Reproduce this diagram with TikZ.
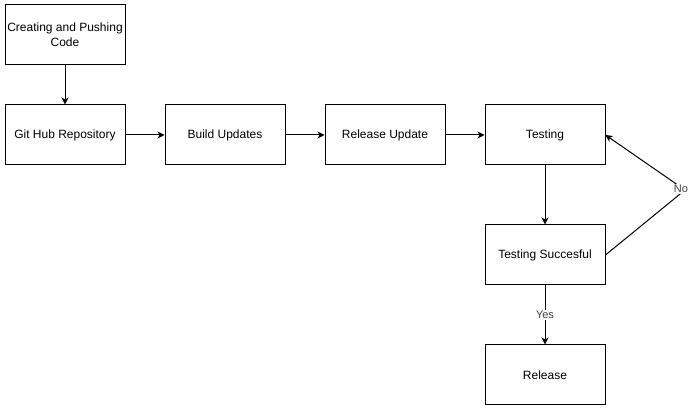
\documentclass[tikz,border=0pt]{standalone}
\usepackage{fontspec}
\setmainfont{Liberation Sans}
\usetikzlibrary{arrows.meta}

\begin{document}
\begin{tikzpicture}[x=1pt, y=-1pt, font=\fontsize{12}{15}\selectfont,
	stepbox/.style={draw, line width=1pt, minimum width=120pt, minimum height=60pt, align=center, inner sep=0pt},
	flow/.style={line width=1pt, -{Stealth[length=7pt, width=7pt, inset=2pt]}},
	answer/.style={fill=white, inner sep=1pt, font=\fontsize{11}{13}\selectfont, text=black!75}]
	\useasboundingbox (0,0) rectangle (699,411);
	% boxes
	\node[stepbox] (code) at (65,35) {Creating and Pushing\\Code};
	\foreach \n/\x/\t in {repo/65/Git Hub Repository, build/225/Build Updates, update/385/Release Update, test/545/Testing} {
		\node[stepbox] (\n) at (\x,135) {\t};
	}
	\node[stepbox] (ok) at (545,255) {Testing Succesful};
	\node[stepbox] (rel) at (545,375) {Release};
	% arrows
	\draw[flow] (code) -- (repo);
	\foreach \a/\b in {repo/build, build/update, update/test, test/ok} {
		\draw[flow] (\a) -- (\b);
	}
	\draw[flow] (ok) -- node[answer] (yes) {Yes} (rel);
	\coordinate (bend) at (685,190);
	\draw[flow] (ok.east) -- (bend) -- (test.east);
	\node[answer] (no) at (681,189) {No};
\end{tikzpicture}
\end{document}
